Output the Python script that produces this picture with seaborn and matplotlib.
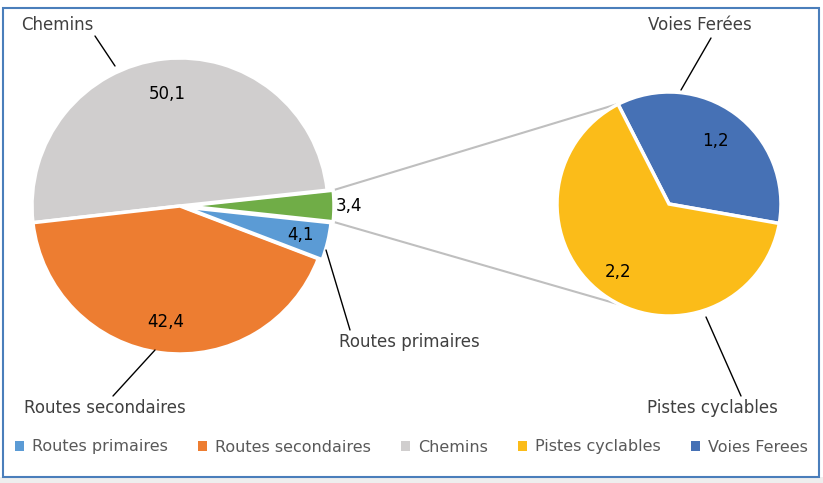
import numpy as np
import matplotlib
matplotlib.use("Agg")
import matplotlib.pyplot as plt
from matplotlib.patches import Patch, Rectangle
import seaborn as sns

# data
categories = ["Routes primaires", "Routes secondaires", "Chemins", "Pistes cyclables", "Voies Ferees"]
main_labels = ["Autres", "Chemins", "Routes secondaires", "Routes primaires"]
main_values = [3.4, 50.1, 42.4, 4.1]
sub_labels = ["Voies Ferées", "Pistes cyclables"]
sub_values = [1.2, 2.2]

sns.set_style("white")
plt.rcParams['font.family'] = ['DejaVu Sans']

pal = {"Routes primaires": "#5b9bd5", "Routes secondaires": "#ed7d31",
       "Chemins": "#d0cece", "Pistes cyclables": "#fbbc19",
       "Voies Ferees": "#4671b5", "Autres": "#70ad47"}

W, H = 823, 483
fig = plt.figure(figsize=(W / 100, H / 100), dpi=100)
ax = fig.add_axes([0, 0, 1, 1])

def P(x, y):
    # pixel (top-left origin) -> data
    return x, H - y

c1, r1 = P(180, 206), 148
c2, r2 = P(669, 204), 112

green_span = main_values[0] / sum(main_values) * 360
# explode offsets are in data units (pixels here)
w1, _ = ax.pie(main_values, colors=[pal["Autres"], pal["Chemins"], pal["Routes secondaires"], pal["Routes primaires"]],
               startangle=-green_span / 2, counterclock=True, center=c1, radius=r1,
               explode=[6, 0, 0, 4],
               wedgeprops=dict(edgecolor="white", linewidth=2.5))
w2, _ = ax.pie(sub_values, colors=[pal["Voies Ferees"], pal["Pistes cyclables"]],
               startangle=-10, counterclock=True, center=c2, radius=r2,
               wedgeprops=dict(edgecolor="white", linewidth=2.5))

# value labels
def vlab(w, c, r, frac, val):
    a = np.deg2rad((w.theta1 + w.theta2) / 2)
    ax.text(c[0] + r * frac * np.cos(a), c[1] + r * frac * np.sin(a),
            f"{val:.1f}".replace(".", ","), ha="center", va="center", fontsize=12, color="black")

for w, v, f in zip(w1, main_values, [1.14, 0.76, 0.79, 0.84]):
    vlab(w, c1, r1, f, v)
for w, v, f in zip(w2, sub_values, [0.70, 0.76]):
    vlab(w, c2, r2, f, v)

# connector lines
g = w1[0]
for a1, a2 in [(g.theta2, 116), (g.theta1, -116)]:
    p1 = (c1[0] + 6 + r1 * np.cos(np.deg2rad(a1)), c1[1] + r1 * np.sin(np.deg2rad(a1)))
    p2 = (c2[0] + r2 * np.cos(np.deg2rad(a2)), c2[1] + r2 * np.sin(np.deg2rad(a2)))
    ax.plot([p1[0], p2[0]], [p1[1], p2[1]], color="#bfbfbf", lw=1.5, zorder=0)

# category labels with leader lines
leaders = [("Chemins", (57, 25), (95, 36), (115, 66)),
           ("Routes secondaires", (105, 408), (113, 396), (155, 350)),
           ("Routes primaires", (409, 342), (350, 330), (326, 250)),
           ("Voies Ferées", (700, 25), (711, 38), (681, 90)),
           ("Pistes cyclables", (712, 408), (741, 396), (706, 317))]
for txt, tp, a, b in leaders:
    ax.text(*P(*tp), txt, ha="center", va="center", fontsize=12, color="#404040")
    ax.plot(*zip(P(*a), P(*b)), color="black", lw=1)

ax.set_xlim(0, W)
ax.set_ylim(0, H)
ax.axis("off")

handles = [Patch(facecolor=pal[c], edgecolor="none") for c in categories]
ax.legend(handles, categories, loc="center", bbox_to_anchor=(0.5, 1 - 447 / H), ncol=5,
          frameon=False, fontsize=11.5, labelcolor="#595959", handlelength=0.6,
          handleheight=0.6, handletextpad=0.5, columnspacing=1.85)

# chart frame
fig.patches.append(Rectangle((0, 0), 1, 6 / H, transform=fig.transFigure,
                             facecolor="#eeeeee", edgecolor="none"))
fig.patches.append(Rectangle((3 / W, 6 / H), 816 / W, 469 / H, transform=fig.transFigure,
                             facecolor="none", edgecolor="#4a7ebb", lw=1.5))

fig.savefig("out.png", dpi=100)
